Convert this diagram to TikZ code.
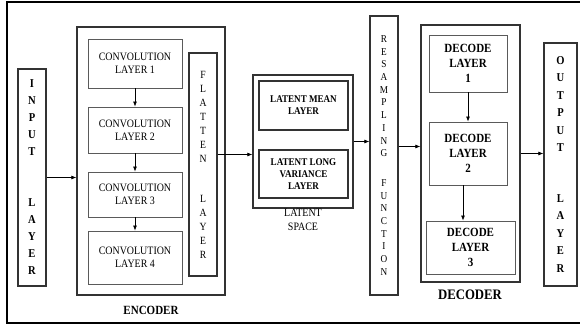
\documentclass[tikz,border=0pt]{standalone}
\usepackage{fontspec}
\setmainfont{Liberation Serif}[FakeStretch=0.88]
\usetikzlibrary{arrows.meta}

\begin{document}
\begin{tikzpicture}[x=1pt, y=-1pt,
    box/.style={draw=boxColour, line width=0.9pt, rectangle, inner sep=0pt, align=center},
    frame/.style={draw=frameColour, line width=1.3pt, rectangle, inner sep=0pt},
    arrow/.style={-{Latex[length=5pt, width=4pt]}, line width=0.7pt}]

    \definecolor{boxColour}{HTML}{5A5A5A}
    \definecolor{frameColour}{HTML}{333333}

    % Fix the page size
    \useasboundingbox (0,0) rectangle (580,329);
    \clip (0,0) rectangle (580,329);

    % Draw outer frame
    \draw[line width=1.4pt] (7,2) rectangle (600,323);

    % Input layer
    \node[frame, minimum width=28pt, minimum height=217pt, align=center,
        font=\bfseries\fontsize{12}{17}\selectfont] (input) at (32,177.5)
        {I\\N\\P\\U\\T\\[34pt]L\\A\\Y\\E\\R};

    % Encoder
    \node[frame, minimum width=148pt, minimum height=268pt] (encoder) at (151,161) {};
    \node[font=\bfseries\fontsize{12.5}{13}\selectfont] (enclabel) at (151,310) {ENCODER};
    \foreach \i/\y/\h in {1/63.5/49, 2/130/46, 3/194.5/45, 4/257.5/53}
        \node[box, minimum width=94pt, minimum height=\h pt,
            font=\fontsize{11.3}{13}\selectfont] (conv\i) at (135,\y)
            {CONVOLUTION\\LAYER \i};
    \foreach \i [evaluate=\i as \j using int(\i+1)] in {1,2,3}
        \draw[arrow] (conv\i) -- (conv\j);

    % Flatten layer
    \node[frame, minimum width=28pt, minimum height=223pt, align=center,
        font=\fontsize{11}{14}\selectfont] (flatten) at (203,164.5)
        {F\\L\\A\\T\\T\\E\\N\\[26pt]L\\A\\Y\\E\\R};

    % Latent space
    \node[frame, minimum width=100pt, minimum height=133pt] (latent) at (303,141.5) {};
    \node[frame, minimum width=89pt, minimum height=49pt, align=center,
        font=\bfseries\fontsize{10.3}{12}\selectfont] (latmean) at (303.5,105.5)
        {LATENT MEAN\\LAYER};
    \node[frame, minimum width=89pt, minimum height=48pt, align=center,
        font=\bfseries\fontsize{10.3}{12}\selectfont] (latvar) at (303.5,174)
        {LATENT LONG\\VARIANCE\\LAYER};
    \node[align=center, font=\fontsize{11.3}{14}\selectfont] (latlabel) at (303,220)
        {LATENT\\SPACE};

    % Resampling function
    \node[frame, minimum width=28pt, minimum height=279pt, align=center,
        font=\fontsize{10.5}{12.7}\selectfont] (resample) at (384,155.5)
        {R\\E\\S\\A\\M\\P\\L\\I\\N\\G\\[17pt]F\\U\\N\\C\\T\\I\\O\\N};

    % Decoder
    \node[frame, minimum width=99pt, minimum height=257pt] (decoder) at (470.5,153.5) {};
    \node[font=\bfseries\fontsize{14.5}{15}\selectfont] (declabel) at (470,295) {DECODER};
    \node[box, minimum width=78pt, minimum height=57pt,
        font=\bfseries\fontsize{12.5}{15}\selectfont] (dec1) at (468,63.5) {DECODE\\LAYER\\1};
    \node[box, minimum width=78pt, minimum height=63pt,
        font=\bfseries\fontsize{12.5}{15}\selectfont] (dec2) at (468,153.5) {DECODE\\LAYER\\2};
    \node[box, minimum width=89pt, minimum height=53pt,
        font=\bfseries\fontsize{12.5}{15}\selectfont] (dec3) at (470.5,247.5) {DECODE\\LAYER\\3};
    \draw[arrow] (dec1) -- (dec2);
    \draw[arrow] ([xshift=-5pt]dec2.south) -- ([xshift=-5pt]dec2.south |- dec3.north);

    % Output layer
    \node[frame, minimum width=33pt, minimum height=243pt, align=center,
        font=\bfseries\fontsize{12}{17.5}\selectfont] (output) at (560.5,164.5)
        {O\\U\\T\\P\\U\\T\\[33pt]L\\A\\Y\\E\\R};

    % Draw connections
    \draw[arrow] (input) -- (input -| encoder.west);
    \draw[arrow] ([yshift=10pt]flatten.east) -- ([yshift=10pt]flatten.east -| latent.west);
    \draw[arrow] (latent) -- (latent -| resample.west);
    \draw[arrow] ([yshift=9pt]resample.east) -- ([yshift=9pt]resample.east -| decoder.west);
    \draw[arrow] (decoder) -- (decoder -| output.west);

\end{tikzpicture}
\end{document}
